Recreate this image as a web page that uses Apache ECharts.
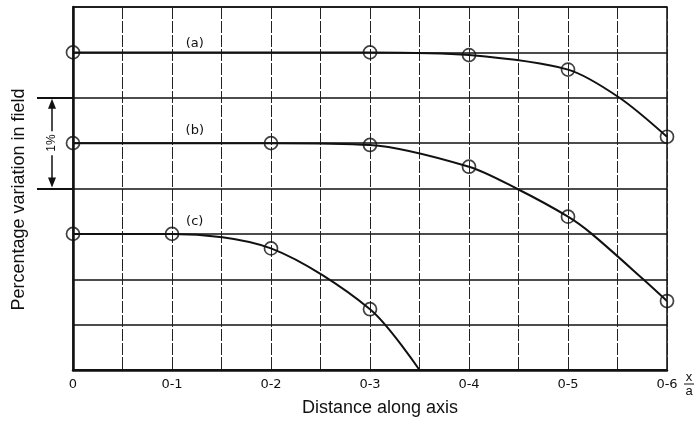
<!DOCTYPE html>
<html>
<head>
<meta charset="utf-8">
<style>
  html, body { margin: 0; padding: 0; background: #fff; }
  #chart { width: 698px; height: 422px; }
</style>
<script src="https://cdn.jsdelivr.net/npm/echarts@6/dist/echarts.min.js"></script>
</head>
<body>
<div id="chart"></div>
<script>
// x / a tick labels (0.1 steps)
const tickLabels = ['0', '0-1', '0-2', '0-3', '0-4', '0-5', '0-6']

// measured points (open circles)
const markA = [[0, 3.5], [0.3, 3.5], [0.4, 3.47], [0.5, 3.31], [0.6, 2.57]]
const markB = [[0, 2.5], [0.2, 2.5], [0.3, 2.48], [0.4, 2.24], [0.5, 1.69], [0.6, 0.76]]
const markC = [[0, 1.5], [0.1, 1.5], [0.2, 1.34], [0.3, 0.67]]

// drawn curves
const curveA = [[0, 3.5], [0.3, 3.5], [0.4, 3.47], [0.5, 3.31], [0.552, 3.0], [0.6, 2.57]]
const curveB = [[0, 2.5], [0.2, 2.5], [0.3, 2.48], [0.4, 2.24], [0.448, 2.0], [0.5, 1.69], [0.524, 1.5], [0.576, 1.0], [0.6, 0.76]]
const curveC = [[0, 1.5], [0.1, 1.5], [0.2, 1.34], [0.3, 0.67], [0.35, 0]]

const curveNames = ['(a)', '(b)', '(c)']

const font = '"Liberation Sans", Arial, sans-serif'
const wideFont = '"DejaVu Sans", sans-serif'
const ink = '#111'

const chart = echarts.init(document.getElementById('chart'))

function curveSeries(data) {
  return {
    type: 'line',
    data: data,
    smooth: 0.3,
    symbol: 'none',
    silent: true,
    lineStyle: { color: ink, width: 2 },
    z: 3
  }
}

function markSeries(data) {
  return {
    type: 'scatter',
    data: data,
    symbol: 'circle',
    symbolSize: 13,
    silent: true,
    itemStyle: { color: 'rgba(255,255,255,0)', borderColor: ink, borderWidth: 1.7 },
    z: 4
  }
}

chart.setOption({
  animation: false,
  backgroundColor: '#fff',
  grid: {
    left: 73, right: 31, top: 7, bottom: 52,
    show: true, borderColor: ink, borderWidth: 1.5, backgroundColor: 'transparent'
  },
  xAxis: {
    type: 'value',
    min: 0, max: 0.6, interval: 0.05,
    name: 'Distance along axis',
    nameLocation: 'middle',
    nameGap: 29,
    nameTextStyle: { fontFamily: font, fontSize: 18, color: ink, padding: [0, 0, 0, 20] },
    axisLine: { show: true, lineStyle: { color: ink, width: 2.5 } },
    axisTick: { show: false },
    axisLabel: {
      margin: 8,
      fontFamily: wideFont, fontSize: 13, color: ink,
      formatter: v => {
        const k = Math.round(v * 100)
        return k % 10 === 0 ? tickLabels[k / 10] : ''
      }
    },
    splitLine: { show: true, lineStyle: { color: '#222', width: 1, type: [12, 2] } }
  },
  yAxis: [{
    type: 'value',
    min: 0, max: 4, interval: 0.5,
    name: 'Percentage variation in field',
    nameLocation: 'middle',
    nameGap: 45,
    nameTextStyle: { fontFamily: font, fontSize: 18, color: ink, padding: [0, 22, 0, 0] },
    axisLine: { show: true, lineStyle: { color: ink, width: 2.5 } },
    axisTick: { show: false },
    axisLabel: { show: false },
    splitLine: { show: true, lineStyle: { color: ink, width: 1.6 } }
  }, {
    // long outward ticks marking the 1% band
    type: 'value',
    position: 'left',
    min: 0, max: 4,
    axisLine: { show: false },
    axisTick: { show: true, customValues: [2, 3], length: 36, lineStyle: { color: ink, width: 1.8 } },
    axisLabel: { show: false },
    splitLine: { show: false }
  }],
  series: [
    curveSeries(curveA), curveSeries(curveB), curveSeries(curveC),
    markSeries(markA), markSeries(markB), markSeries(markC)
  ]
})

// annotations placed through the axes
const labelAnchors = [[0.123, 3.6], [0.123, 2.64], [0.123, 1.63]]
const px = p => chart.convertToPixel({ gridIndex: 0 }, p)
const graphics = curveNames.map((t, i) => {
  const p = px(labelAnchors[i])
  return {
    type: 'text', x: p[0], y: p[1],
    style: { text: t, font: '13px ' + wideFont, fill: ink, align: 'center', verticalAlign: 'middle' }
  }
})

// 1% bracket between y = 3 and y = 2
const yTop = px([0, 3])[1]
const yBot = px([0, 2])[1]
const bx = px([0, 0])[0] - 21
const yMid = (yTop + yBot) / 2
graphics.push(
  { type: 'line', shape: { x1: bx, y1: yTop + 9, x2: bx, y2: yMid - 12 }, style: { stroke: ink, lineWidth: 1.5 } },
  { type: 'line', shape: { x1: bx, y1: yMid + 12, x2: bx, y2: yBot - 9 }, style: { stroke: ink, lineWidth: 1.5 } },
  { type: 'polygon', shape: { points: [[bx, yTop + 1], [bx - 4, yTop + 11], [bx + 4, yTop + 11]] }, style: { fill: ink } },
  { type: 'polygon', shape: { points: [[bx, yBot - 1], [bx - 4, yBot - 11], [bx + 4, yBot - 11]] }, style: { fill: ink } },
  {
    type: 'text', x: bx, y: yMid, rotation: Math.PI / 2,
    style: { text: '1%', font: '12px ' + font, fill: ink, align: 'center', verticalAlign: 'middle' }
  }
)

// x/a fraction after the last tick label
const end = px([0.6, 0])
graphics.push(
  { type: 'text', x: end[0] + 22, y: end[1] + 7, style: { text: 'x', font: '13px ' + font, fill: ink, align: 'center', verticalAlign: 'middle' } },
  { type: 'line', shape: { x1: end[0] + 17, y1: end[1] + 14, x2: end[0] + 27, y2: end[1] + 14 }, style: { stroke: ink, lineWidth: 1 } },
  { type: 'text', x: end[0] + 22, y: end[1] + 21, style: { text: 'a', font: '13px ' + font, fill: ink, align: 'center', verticalAlign: 'middle' } }
)

chart.setOption({ graphic: graphics })
</script>
</body>
</html>
